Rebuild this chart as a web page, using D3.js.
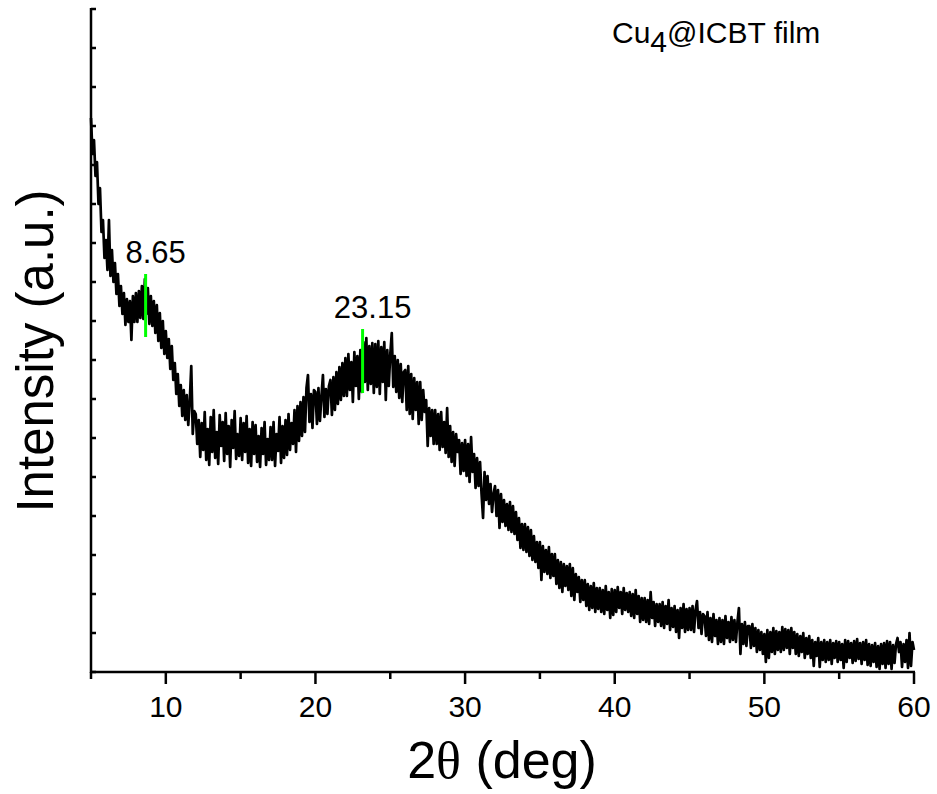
<!DOCTYPE html>
<html>
<head>
<meta charset="utf-8">
<script src="https://cdn.jsdelivr.net/npm/d3@7"></script>
<style>
  body { margin: 0; background: #fff; }
  svg { display: block; }
  text { font-family: Arial, 'Liberation Sans', sans-serif; fill: #000; }
</style>
</head>
<body>
<div class="xrd-chart"></div>
<script>
// scan grid (deg) and intensity, one row per degree
const twoThetaStart = 5;
const twoThetaStep = 0.1;
const intensity = [
  554, 518, 532, 496, 510, 468, 484, 440, 452, 414,   // 5
  432, 402, 452, 396, 422, 390, 409, 378, 398, 366,   // 6
  386, 358, 379, 347, 373, 350, 371, 332, 376, 350,   // 7
  379, 350, 381, 354, 386, 353, 393, 358, 384, 348,   // 8
  376, 346, 371, 339, 367, 331, 359, 324, 351, 318,   // 9
  341, 314, 333, 303, 326, 292, 309, 278, 298, 266,   // 10
  287, 256, 282, 252, 277, 247, 271, 306, 238, 261,   // 11
  258, 228, 252, 215, 249, 222, 260, 212, 243, 207,   // 12
  255, 220, 262, 214, 240, 208, 257, 226, 250, 211,   // 13
  259, 218, 246, 205, 252, 224, 261, 213, 238, 216,   // 14
  254, 212, 249, 220, 256, 209, 243, 206, 250, 218,   // 15
  247, 210, 236, 205, 244, 218, 250, 207, 233, 212,   // 16
  245, 212, 250, 206, 238, 221, 255, 209, 246, 214,   // 17
  252, 217, 258, 222, 249, 228, 262, 220, 266, 231,   // 18
  270, 236, 275, 240, 284, 297, 250, 278, 244, 282,   // 19
  280, 248, 284, 251, 276, 297, 255, 283, 258, 286,   // 20
  292, 257, 295, 262, 300, 268, 305, 272, 309, 276,   // 21
  314, 276, 318, 282, 310, 270, 320, 286, 316, 273,   // 22
  322, 280, 330, 290, 334, 282, 326, 288, 329, 279,   // 23
  328, 285, 331, 278, 325, 290, 330, 272, 322, 286,   // 24
  318, 339, 285, 316, 280, 312, 274, 308, 270, 300,   // 25
  302, 262, 306, 258, 298, 253, 294, 262, 290, 248,   // 26
  290, 252, 282, 260, 272, 226, 264, 236, 262, 228,   // 27
  262, 228, 258, 222, 260, 225, 250, 219, 264, 215,   // 28
  246, 210, 240, 206, 238, 220, 232, 198, 229, 201,   // 29
  232, 196, 228, 190, 235, 200, 218, 184, 214, 186,   // 30
  210, 178, 154, 200, 172, 196, 168, 188, 160, 178,   // 31
  186, 156, 182, 144, 178, 150, 172, 146, 168, 142,   // 32
  170, 140, 166, 138, 160, 132, 154, 124, 148, 122,   // 33
  148, 120, 145, 116, 142, 112, 136, 110, 130, 104,   // 34
  130, 92, 126, 100, 122, 98, 125, 94, 118, 96,       // 35
  118, 88, 112, 84, 110, 80, 108, 86, 106, 82,        // 36
  108, 76, 104, 72, 98, 80, 95, 70, 92, 72,           // 37
  92, 66, 88, 62, 86, 64, 89, 60, 84, 63,             // 38
  84, 60, 82, 58, 86, 62, 80, 54, 83, 57,             // 39
  82, 60, 85, 64, 80, 58, 84, 62, 79, 60,             // 40
  80, 56, 78, 54, 82, 58, 76, 50, 74, 52,             // 41
  74, 50, 72, 48, 80, 54, 70, 46, 68, 50,             // 42
  68, 46, 70, 44, 66, 48, 72, 42, 64, 45,             // 43
  66, 40, 62, 34, 64, 44, 68, 40, 63, 42,             // 44
  64, 42, 66, 40, 62, 71, 44, 60, 38, 58,             // 45
  56, 36, 60, 32, 54, 30, 58, 36, 52, 28,             // 46
  54, 30, 52, 28, 56, 34, 50, 30, 55, 32,             // 47
  52, 30, 50, 64, 18, 48, 28, 50, 26, 46,             // 48
  46, 24, 48, 26, 44, 20, 42, 22, 40, 18,             // 49
  38, 10, 42, 14, 40, 20, 44, 18, 41, 22,             // 50
  40, 20, 45, 22, 43, 24, 42, 18, 44, 24,             // 51
  40, 18, 38, 16, 36, 20, 39, 14, 34, 18,             // 52
  36, 14, 32, 6, 30, 16, 34, 5, 30, 12,               // 53
  32, 10, 30, 12, 32, 8, 29, 14, 31, 10,              // 54
  30, 12, 28, 4, 32, 10, 31, 14, 29, 9,               // 55
  31, 11, 33, 13, 29, 8, 30, 12, 32, 7,               // 56
  28, 6, 27, 10, 29, 5, 26, 3, 28, 8,                 // 57
  29, 4, 31, 8, 30, 3, 27, 9, 28, 34,                 // 58
  20, 30, 5, 28, 10, 32, 4, 39, 6, 30,                // 59
  22                                                  // 60
];

// peak markers (green bars) and their labels
const peakPositions = [8.65, 23.15];
const peakLabels = ['8.65', '23.15'];
const peakBarLow = [335, 279];
const peakBarHigh = [398, 343];

const xMajorTicks = [10, 20, 30, 40, 50, 60];
const xMinorTicks = [5, 15, 25, 35, 45, 55];
const yTicks = d3.range(0, 664, 39);

const width = 937;
const height = 794;
const plotLeft = 91, plotRight = 914, plotTop = 9, plotBottom = 672;

const svg = d3.select('.xrd-chart')
    .append('svg')
    .attr('width', width)
    .attr('height', height);

const x = d3.scaleLinear().domain([5, 60]).range([plotLeft, plotRight]);
const y = d3.scaleLinear().domain([0, 663]).range([plotBottom, plotTop]);

const points = intensity.map((v, i) => [twoThetaStart + i * twoThetaStep, v]);

const line = d3.line()
    .x(d => x(d[0]))
    .y(d => y(d[1]));

svg.append('path')
    .datum(points)
    .attr('d', line)
    .attr('fill', 'none')
    .attr('stroke', '#000')
    .attr('stroke-width', 2.7)
    .attr('stroke-linejoin', 'round');

// peak markers
peakPositions.forEach((p, i) => {
  svg.append('line')
      .attr('x1', x(p))
      .attr('x2', x(p))
      .attr('y1', y(peakBarLow[i]))
      .attr('y2', y(peakBarHigh[i]))
      .attr('stroke', '#00ff00')
      .attr('stroke-width', 3);

  svg.append('text')
      .attr('x', x(p) + 10)
      .attr('y', y(peakBarHigh[i]) - 11)
      .attr('text-anchor', 'middle')
      .style('font-size', '31px')
      .text(peakLabels[i]);
});

// axes
const axisG = svg.append('g')
    .attr('stroke', '#000')
    .attr('stroke-width', 2.5);

axisG.append('line')
    .attr('x1', plotLeft).attr('x2', plotLeft)
    .attr('y1', plotTop - 1).attr('y2', plotBottom + 1);

axisG.append('line')
    .attr('x1', plotLeft - 1).attr('x2', plotRight + 1)
    .attr('y1', plotBottom).attr('y2', plotBottom);

yTicks.forEach(t => {
  axisG.append('line')
      .attr('x1', plotLeft).attr('x2', plotLeft + 5)
      .attr('y1', y(t)).attr('y2', y(t));
});

xMajorTicks.forEach(t => {
  axisG.append('line')
      .attr('x1', x(t)).attr('x2', x(t))
      .attr('y1', plotBottom).attr('y2', plotBottom + 12);
});

xMinorTicks.forEach(t => {
  axisG.append('line')
      .attr('x1', x(t)).attr('x2', x(t))
      .attr('y1', plotBottom).attr('y2', plotBottom + 7);
});

svg.selectAll('.x-tick-label')
    .data(xMajorTicks)
    .enter()
    .append('text')
    .attr('class', 'x-tick-label')
    .attr('x', d => x(d))
    .attr('y', 717)
    .attr('text-anchor', 'middle')
    .style('font-size', '30px')
    .text(d => d);

// axis titles
const xTitle = svg.append('text')
    .attr('x', 502)
    .attr('y', 778)
    .attr('text-anchor', 'middle')
    .style('font-size', '52px');
xTitle.append('tspan').text('2');
xTitle.append('tspan')
    .style('font-family', "'Liberation Serif', 'Times New Roman', serif")
    .text('\u03B8');
xTitle.append('tspan').text(' (deg)');

svg.append('text')
    .attr('transform', 'translate(53,351) rotate(-90)')
    .attr('text-anchor', 'middle')
    .style('font-size', '51px')
    .text('Intensity (a.u.)');

// sample name
const legend = svg.append('text')
    .attr('x', 612)
    .attr('y', 43)
    .style('font-size', '30px');
legend.append('tspan').text('Cu');
legend.append('tspan').attr('dy', 9).text('4');
legend.append('tspan').attr('dy', -9).text('@ICBT film');
</script>
</body>
</html>
